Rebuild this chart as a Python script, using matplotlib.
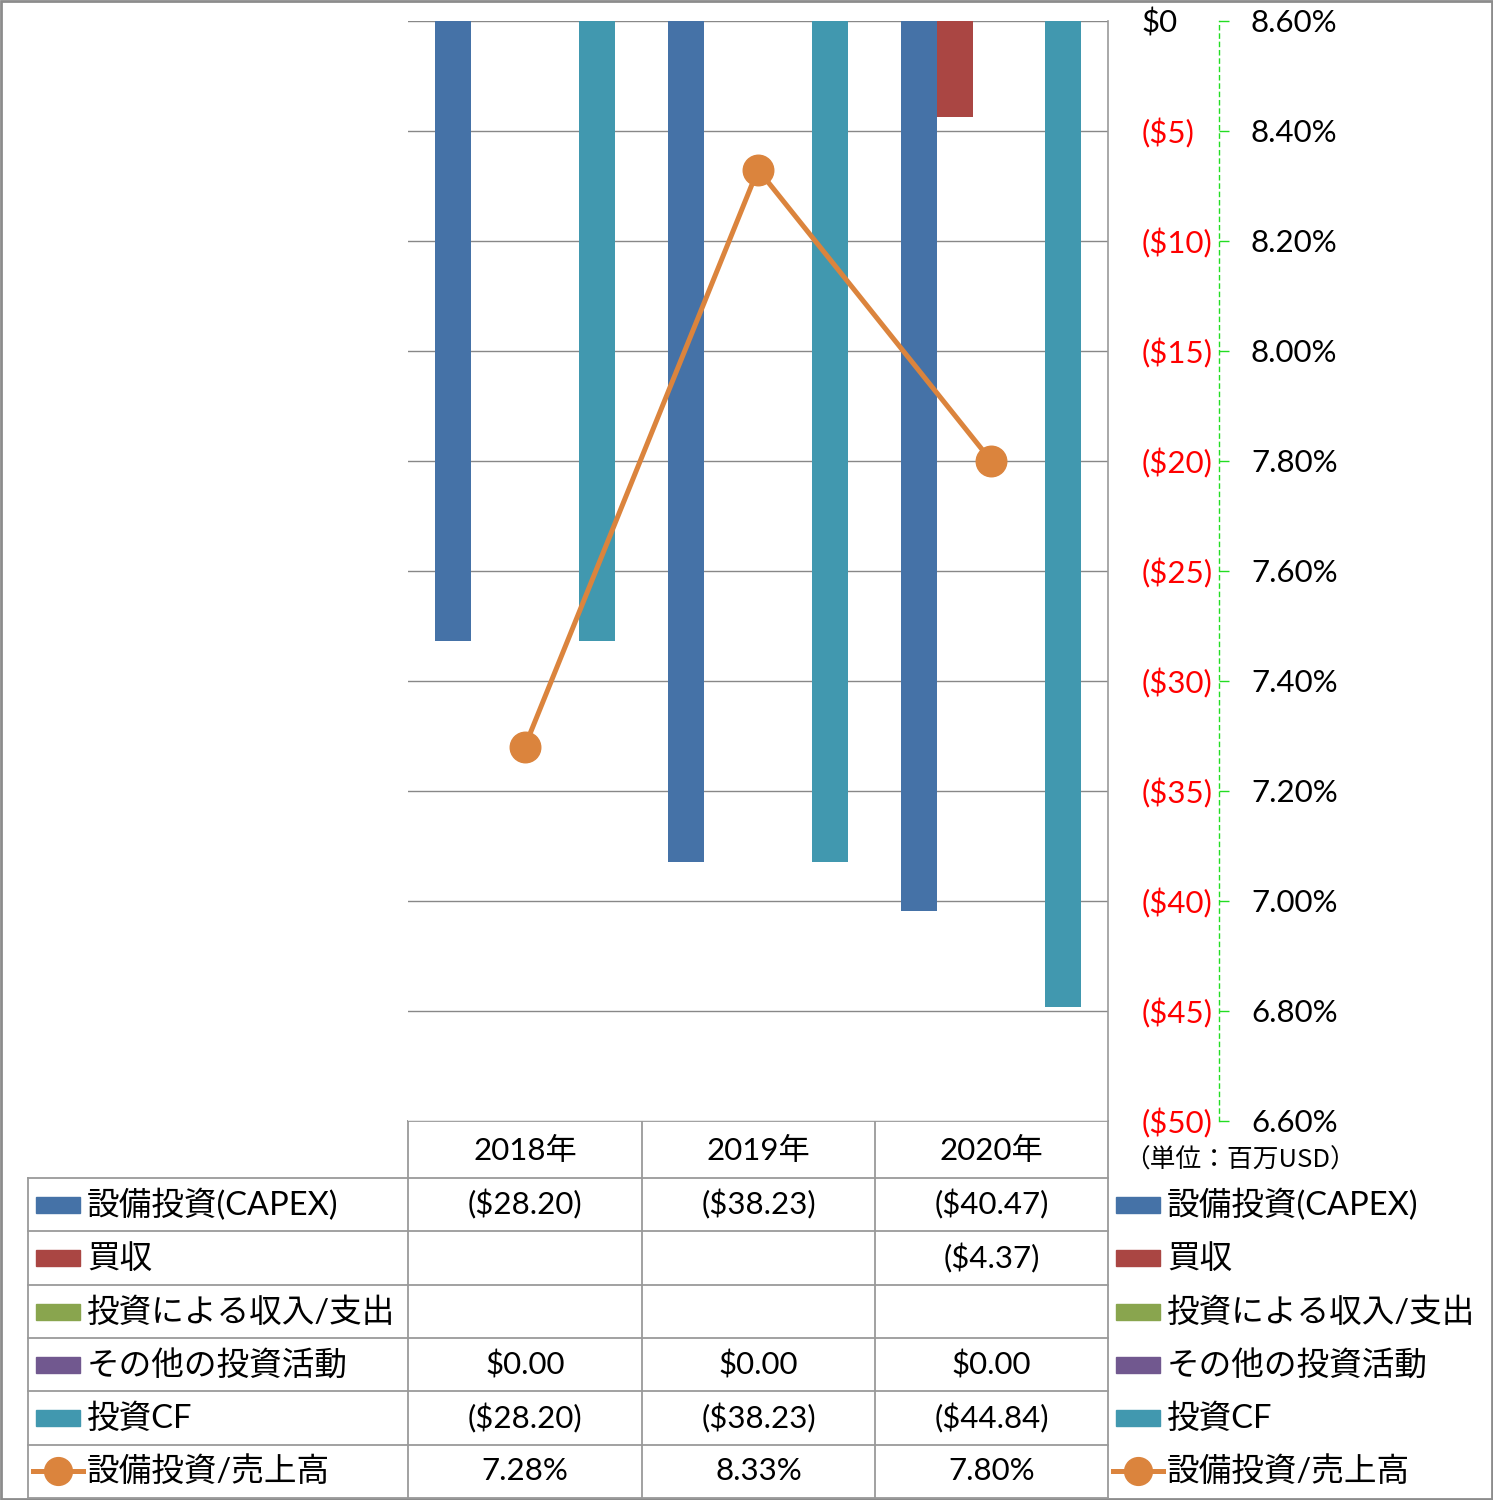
import numpy as np
import matplotlib.pyplot as plt
from matplotlib.patches import Rectangle
from matplotlib.ticker import FuncFormatter, MultipleLocator

plt.rcParams['font.family'] = ['Lato', 'Noto Sans CJK JP', 'DejaVu Sans']

# data (millions USD)
years = ['2018年', '2019年', '2020年']
series_names = ['設備投資(CAPEX)', '買収', '投資による収入/支出', 'その他の投資活動', '投資CF']
capex = [-28.20, -38.23, -40.47]
acquisition = [None, None, -4.37]
invest_income = [None, None, None]
other_invest = [0.00, 0.00, 0.00]
invest_cf = [-28.20, -38.23, -44.84]
capex_ratio = [7.28, 8.33, 7.80]
line_name = '設備投資/売上高'
unit_label = '（単位：百万USD）'

colors = ['#4572A7', '#AA4643', '#89A54E', '#71588F', '#4198AF']
line_color = '#DB843D'
grid_color = '#888888'
table_color = '#9A9A9A'

W, H = 1493, 1500
fig = plt.figure(figsize=(W / 100, H / 100), dpi=100)

def fx(px):
    return px / W

def fy(py):
    return 1 - py / H

# plot area in pixels
x0, x1, y0, y1 = 408, 1108, 21, 1121
ax = fig.add_axes([fx(x0), fy(y1), fx(x1 - x0), (y1 - y0) / H])
all_series = [capex, acquisition, invest_income, other_invest, invest_cf]
xs = np.arange(len(years))
bw = 36 / 233.33
for i, (vals, c) in enumerate(zip(all_series, colors)):
    v = [np.nan if a is None else a for a in vals]
    ax.bar(xs + (i - 2) * bw, v, width=bw, color=c, zorder=3)

ax.set_xlim(-0.5, 2.5)
ax.set_ylim(-50, 0)
ax.yaxis.set_major_locator(MultipleLocator(5))
ax.yaxis.grid(True, color=grid_color, lw=1, zorder=0)
ax.set_xticks([])
for s in ['left', 'top', 'bottom']:
    ax.spines[s].set_visible(False)
ax.spines['right'].set_color(table_color)
ax.spines['right'].set_linewidth(1.2)

def money(v, pos=None):
    if abs(v) < 1e-9:
        return '$0'
    return '(${:.0f})'.format(abs(v))

ax.yaxis.set_major_formatter(FuncFormatter(money))

ax2 = ax.twinx()
ax2.plot(xs, capex_ratio, color=line_color, lw=3.6, marker='o', markersize=22, zorder=5)
ax2.set_ylim(6.6, 8.6)
ax2.yaxis.set_major_locator(MultipleLocator(0.2))
ax2.yaxis.set_major_formatter(FuncFormatter(lambda v, p: '{:.2f}%'.format(v)))
for s in ['left', 'top', 'bottom']:
    ax2.spines[s].set_visible(False)
ax2.spines['right'].set_position(('outward', 111 * 0.72))
ax2.spines['right'].set_color('#22DD22')
ax2.spines['right'].set_linestyle((0, (3, 3)))
ax2.spines['right'].set_linewidth(1)
ax2.tick_params(axis='y', length=7, width=1, color='#22DD22', pad=16, labelsize=22.5)

# primary labels on the right side, next to the plot
ax.yaxis.tick_right()
ax.tick_params(axis='y', which='both', left=False, labelleft=False,
               right=False, labelright=True, length=0, pad=24, labelsize=22.5)

fig.canvas.draw()
for lab, v in zip(ax.get_yticklabels(), ax.get_yticks()):
    lab.set_color('black' if abs(v) < 1e-9 else 'red')

# overlay for table / legend
ov = fig.add_axes([0, 0, 1, 1], zorder=-1)
ov.set_xlim(0, W)
ov.set_ylim(H, 0)
ov.axis('off')

col_x = [408, 642, 875, 1108]
row_y = [1121, 1178, 1231, 1285, 1338, 1391, 1445, 1498]
lw = 1.3
ov.plot([408, 1108], [1121, 1121], color=table_color, lw=lw)
for yy in row_y[1:]:
    ov.plot([28, 1108], [yy, yy], color=table_color, lw=lw)
ov.plot([28, 28], [1178, 1498], color=table_color, lw=lw)
for xx in col_x:
    ov.plot([xx, xx], [1121, 1498], color=table_color, lw=lw)

fs = 22.5
for j, yr in enumerate(years):
    cx = (col_x[j] + col_x[j + 1]) / 2
    ov.text(cx, (row_y[0] + row_y[1]) / 2 + 1, yr, ha='center', va='center', fontsize=fs)

def fmt_cell(v):
    if v is None:
        return ''
    if abs(v) < 1e-9:
        return '$0.00'
    return '(${:.2f})'.format(abs(v)) if v < 0 else '${:.2f}'.format(v)

for i, vals in enumerate(all_series):
    cy = (row_y[i + 1] + row_y[i + 2]) / 2
    for j, v in enumerate(vals):
        cx = (col_x[j] + col_x[j + 1]) / 2
        ov.text(cx, cy, fmt_cell(v), ha='center', va='center', fontsize=fs)
cy = (row_y[6] + row_y[7]) / 2
for j, v in enumerate(capex_ratio):
    cx = (col_x[j] + col_x[j + 1]) / 2
    ov.text(cx, cy, '{:.2f}%'.format(v), ha='center', va='center', fontsize=fs)

# legend keys, left (in table) and right
lfs = 23.5
for lx in [36, 1116]:
    for i, name in enumerate(series_names):
        cy = (row_y[i + 1] + row_y[i + 2]) / 2
        ov.add_patch(Rectangle((lx, cy - 8), 44, 16, color=colors[i]))
        ov.text(lx + 51, cy + 1, name, ha='left', va='center', fontsize=lfs)
    cy = (row_y[6] + row_y[7]) / 2 - 1
    ov.plot([lx - 3, lx + 47], [cy, cy], color=line_color, lw=3.6)
    ov.plot([lx + 22], [cy], marker='o', markersize=20, color=line_color)
    ov.text(lx + 51, cy + 1, line_name, ha='left', va='center', fontsize=lfs)

ov.text(1240, 1161, unit_label, ha='center', va='center', fontsize=18.5,
        family=['Noto Sans CJK JP'])

# outer border
ov.add_patch(Rectangle((1, 1), W - 2, H - 2, fill=False, edgecolor='#8C8C8C', lw=2))

fig.savefig('out.png', dpi=100)
